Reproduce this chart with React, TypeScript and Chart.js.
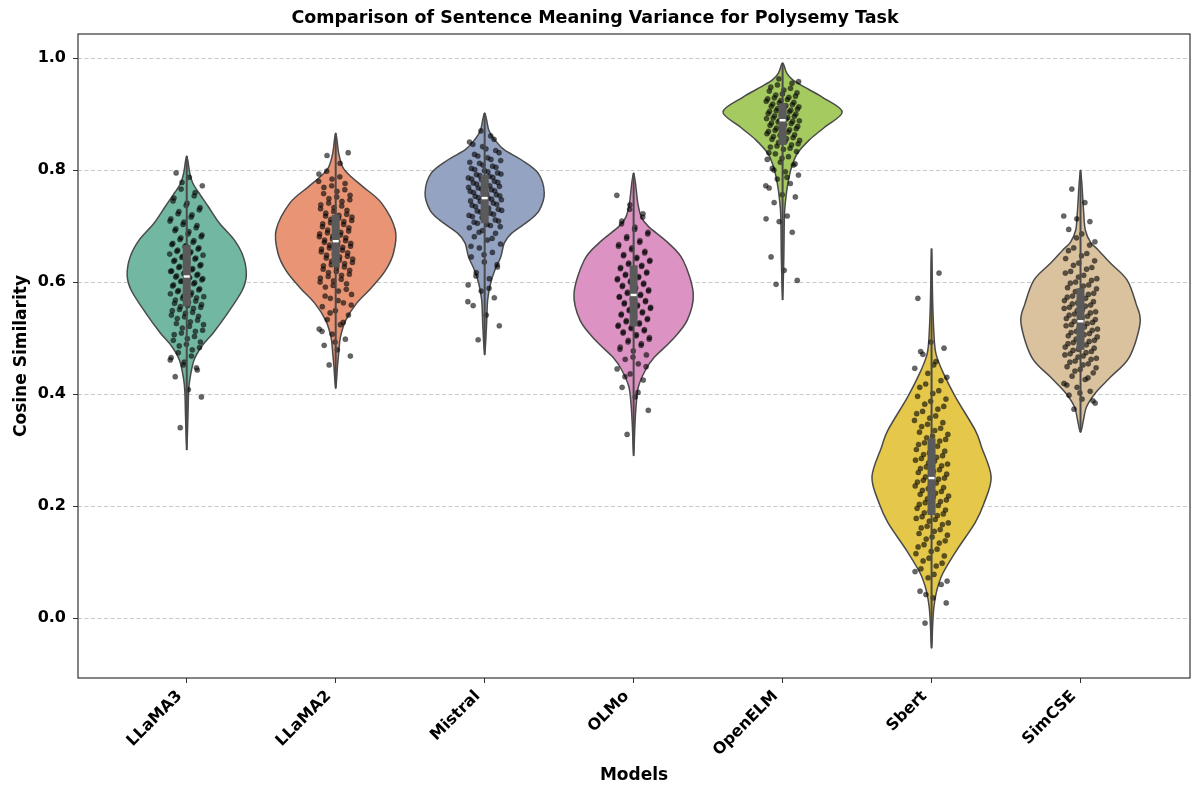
import React, { useEffect, useRef } from "react";
import { Chart, registerables } from "chart.js";

Chart.register(...registerables);

// ---------- data ----------
const models = ["LLaMA3", "LLaMA2", "Mistral", "OLMo", "OpenELM", "Sbert", "SimCSE"];
const yTickValues = [0, 0.2, 0.4, 0.6, 0.8, 1.0];
const fillColors = ["#71b7a1", "#e99575", "#95a3c3", "#dc92c3", "#a4ca60", "#e5c849", "#dbc29e"];

const q1 = [0.557, 0.627, 0.705, 0.521, 0.845, 0.184, 0.479];
const medians = [0.61, 0.673, 0.75, 0.577, 0.889, 0.25, 0.53];
const q3 = [0.666, 0.72, 0.791, 0.63, 0.919, 0.321, 0.589];

// violin density profiles: [value, relative width]
const llama3Profile = [[0.30, 0], [0.36, 0.02], [0.40, 0.03], [0.425, 0.05], [0.46, 0.12], [0.485, 0.25], [0.51, 0.45], [0.545, 0.69], [0.585, 0.93], [0.612, 1.0], [0.645, 0.95], [0.675, 0.8], [0.705, 0.55], [0.735, 0.36], [0.76, 0.2], [0.777, 0.1], [0.795, 0.05], [0.825, 0]];
const llama2Profile = [[0.41, 0], [0.45, 0.03], [0.473, 0.05], [0.502, 0.08], [0.532, 0.17], [0.562, 0.35], [0.59, 0.6], [0.62, 0.83], [0.652, 0.97], [0.693, 1.0], [0.741, 0.77], [0.77, 0.46], [0.788, 0.26], [0.805, 0.12], [0.83, 0.05], [0.866, 0]];
const mistralProfile = [[0.47, 0], [0.52, 0.03], [0.568, 0.05], [0.598, 0.1], [0.621, 0.17], [0.645, 0.27], [0.67, 0.33], [0.687, 0.45], [0.711, 0.76], [0.729, 0.92], [0.759, 1.0], [0.794, 0.9], [0.818, 0.62], [0.836, 0.33], [0.854, 0.17], [0.871, 0.07], [0.902, 0]];
const olmoProfile = [[0.29, 0], [0.34, 0.02], [0.377, 0.04], [0.413, 0.08], [0.443, 0.2], [0.466, 0.35], [0.496, 0.64], [0.532, 0.9], [0.58, 1.0], [0.639, 0.83], [0.67, 0.58], [0.699, 0.25], [0.716, 0.13], [0.741, 0.07], [0.795, 0]];
const openelmProfile = [[0.568, 0], [0.64, 0.02], [0.716, 0.03], [0.746, 0.05], [0.777, 0.09], [0.805, 0.15], [0.83, 0.25], [0.854, 0.45], [0.877, 0.71], [0.904, 1.0], [0.93, 0.67], [0.948, 0.37], [0.961, 0.17], [0.973, 0.07], [0.991, 0]];
const sbertProfile = [[-0.054, 0], [-0.01, 0.02], [0.02, 0.04], [0.05, 0.09], [0.08, 0.19], [0.121, 0.42], [0.17, 0.73], [0.205, 0.88], [0.252, 1.0], [0.305, 0.84], [0.336, 0.73], [0.395, 0.4], [0.437, 0.2], [0.466, 0.09], [0.49, 0.05], [0.56, 0.02], [0.66, 0]];
const simcseProfile = [[0.332, 0], [0.354, 0.05], [0.377, 0.1], [0.402, 0.25], [0.43, 0.5], [0.466, 0.82], [0.527, 1.0], [0.562, 0.93], [0.604, 0.78], [0.634, 0.5], [0.657, 0.3], [0.671, 0.17], [0.693, 0.08], [0.729, 0.05], [0.8, 0]];
const profiles = [llama3Profile, llama2Profile, mistralProfile, olmoProfile, openelmProfile, sbertProfile, simcseProfile];

// individual observations (strip points)
const llama3Points = [0.340, 0.395, 0.408, 0.431, 0.447, 0.452, 0.461, 0.468, 0.474, 0.483, 0.489, 0.496, 0.503, 0.509, 0.514, 0.521, 0.526, 0.532, 0.538, 0.541, 0.546, 0.551, 0.555, 0.558, 0.562, 0.566, 0.571, 0.574, 0.577, 0.583, 0.586, 0.589, 0.593, 0.597, 0.601, 0.604, 0.607, 0.609, 0.612, 0.615, 0.619, 0.622, 0.626, 0.629, 0.633, 0.637, 0.641, 0.644, 0.648, 0.652, 0.655, 0.659, 0.663, 0.667, 0.671, 0.676, 0.681, 0.686, 0.692, 0.697, 0.703, 0.709, 0.716, 0.722, 0.729, 0.737, 0.745, 0.754, 0.766, 0.772, 0.787, 0.795,
  0.443, 0.457, 0.465, 0.479, 0.486, 0.493, 0.499, 0.506, 0.512, 0.518, 0.524, 0.529, 0.535, 0.539, 0.544, 0.549, 0.553, 0.556, 0.56, 0.564, 0.568, 0.572, 0.575, 0.579, 0.581, 0.585, 0.588, 0.591, 0.595, 0.599, 0.602, 0.606, 0.608, 0.611, 0.614, 0.617, 0.62, 0.624, 0.628, 0.631, 0.635, 0.639, 0.643, 0.646, 0.65, 0.654, 0.657, 0.661, 0.665, 0.669, 0.674, 0.679, 0.684, 0.69, 0.695, 0.701, 0.707, 0.713, 0.72, 0.726, 0.733, 0.741, 0.75, 0.76, 0.778];
const llama2Points = [0.452, 0.468, 0.479, 0.487, 0.498, 0.507, 0.516, 0.524, 0.533, 0.541, 0.549, 0.556, 0.563, 0.571, 0.578, 0.584, 0.591, 0.597, 0.602, 0.607, 0.612, 0.617, 0.621, 0.625, 0.629, 0.633, 0.637, 0.641, 0.645, 0.648, 0.652, 0.655, 0.659, 0.662, 0.666, 0.669, 0.672, 0.675, 0.679, 0.682, 0.686, 0.689, 0.693, 0.697, 0.701, 0.704, 0.708, 0.712, 0.716, 0.719, 0.723, 0.728, 0.733, 0.738, 0.744, 0.749, 0.755, 0.762, 0.769, 0.776, 0.784, 0.793, 0.812, 0.826, 0.831,
  0.493, 0.512, 0.528, 0.545, 0.559, 0.567, 0.575, 0.587, 0.594, 0.6, 0.605, 0.61, 0.614, 0.619, 0.623, 0.627, 0.631, 0.635, 0.639, 0.643, 0.646, 0.65, 0.654, 0.657, 0.661, 0.664, 0.667, 0.671, 0.674, 0.677, 0.681, 0.684, 0.688, 0.691, 0.695, 0.699, 0.703, 0.706, 0.71, 0.714, 0.718, 0.721, 0.726, 0.731, 0.736, 0.741, 0.747, 0.752, 0.758, 0.765, 0.772, 0.78, 0.788, 0.798];
const mistralPoints = [0.497, 0.522, 0.541, 0.558, 0.572, 0.584, 0.595, 0.606, 0.617, 0.627, 0.636, 0.645, 0.653, 0.661, 0.668, 0.675, 0.681, 0.687, 0.692, 0.697, 0.701, 0.705, 0.709, 0.713, 0.717, 0.721, 0.725, 0.728, 0.732, 0.735, 0.739, 0.742, 0.745, 0.748, 0.751, 0.754, 0.757, 0.76, 0.763, 0.766, 0.769, 0.772, 0.775, 0.778, 0.781, 0.784, 0.787, 0.79, 0.793, 0.797, 0.801, 0.805, 0.809, 0.814, 0.819, 0.825, 0.831, 0.838, 0.846, 0.855, 0.87,
  0.565, 0.589, 0.611, 0.631, 0.649, 0.664, 0.678, 0.689, 0.699, 0.703, 0.707, 0.711, 0.715, 0.719, 0.723, 0.727, 0.73, 0.734, 0.737, 0.741, 0.744, 0.747, 0.75, 0.753, 0.756, 0.759, 0.762, 0.765, 0.768, 0.771, 0.774, 0.777, 0.78, 0.783, 0.786, 0.789, 0.792, 0.795, 0.799, 0.803, 0.807, 0.812, 0.817, 0.822, 0.828, 0.835, 0.842, 0.85, 0.861];
const olmoPoints = [0.328, 0.371, 0.395, 0.412, 0.425, 0.436, 0.445, 0.454, 0.462, 0.47, 0.477, 0.484, 0.49, 0.496, 0.501, 0.506, 0.511, 0.515, 0.519, 0.523, 0.527, 0.531, 0.535, 0.539, 0.543, 0.547, 0.551, 0.555, 0.559, 0.563, 0.567, 0.571, 0.574, 0.578, 0.582, 0.586, 0.59, 0.594, 0.598, 0.602, 0.606, 0.61, 0.614, 0.618, 0.622, 0.626, 0.63, 0.634, 0.639, 0.644, 0.649, 0.655, 0.661, 0.667, 0.674, 0.681, 0.689, 0.698, 0.709, 0.722, 0.738, 0.755,
  0.403, 0.431, 0.449, 0.466, 0.48, 0.487, 0.493, 0.498, 0.504, 0.509, 0.513, 0.517, 0.521, 0.525, 0.529, 0.533, 0.537, 0.541, 0.545, 0.549, 0.553, 0.557, 0.561, 0.565, 0.569, 0.573, 0.576, 0.58, 0.584, 0.588, 0.592, 0.596, 0.6, 0.604, 0.608, 0.612, 0.616, 0.62, 0.624, 0.628, 0.632, 0.637, 0.642, 0.647, 0.652, 0.658, 0.664, 0.671, 0.678, 0.686, 0.694, 0.704, 0.716, 0.73];
const openelmPoints = [0.596, 0.603, 0.621, 0.645, 0.689, 0.708, 0.713, 0.718, 0.742, 0.752, 0.756, 0.768, 0.776, 0.784, 0.791, 0.797, 0.803, 0.809, 0.814, 0.819, 0.824, 0.829, 0.833, 0.837, 0.841, 0.845, 0.849, 0.853, 0.856, 0.86, 0.863, 0.866, 0.869, 0.872, 0.875, 0.878, 0.881, 0.884, 0.887, 0.889, 0.892, 0.894, 0.897, 0.9, 0.902, 0.905, 0.907, 0.91, 0.913, 0.915, 0.918, 0.921, 0.924, 0.927, 0.93, 0.934, 0.938, 0.943, 0.948, 0.955, 0.963,
  0.772, 0.787, 0.8, 0.811, 0.821, 0.831, 0.839, 0.843, 0.847, 0.851, 0.855, 0.858, 0.862, 0.865, 0.868, 0.871, 0.874, 0.877, 0.88, 0.883, 0.886, 0.888, 0.891, 0.893, 0.896, 0.899, 0.901, 0.904, 0.906, 0.909, 0.912, 0.914, 0.917, 0.92, 0.923, 0.926, 0.929, 0.932, 0.936, 0.941, 0.946, 0.952, 0.958];
const sbertPoints = [-0.009, 0.027, 0.036, 0.048, 0.06, 0.072, 0.083, 0.093, 0.102, 0.111, 0.119, 0.127, 0.134, 0.141, 0.148, 0.155, 0.161, 0.167, 0.173, 0.178, 0.183, 0.188, 0.193, 0.198, 0.203, 0.208, 0.213, 0.218, 0.223, 0.228, 0.233, 0.238, 0.243, 0.248, 0.252, 0.257, 0.262, 0.267, 0.272, 0.277, 0.282, 0.287, 0.292, 0.298, 0.304, 0.31, 0.316, 0.322, 0.328, 0.335, 0.342, 0.349, 0.357, 0.365, 0.373, 0.382, 0.391, 0.401, 0.412, 0.424, 0.437, 0.446, 0.458, 0.471, 0.482, 0.493, 0.571, 0.616,
  0.042, 0.066, 0.078, 0.088, 0.098, 0.107, 0.115, 0.123, 0.131, 0.138, 0.145, 0.151, 0.158, 0.164, 0.17, 0.176, 0.181, 0.186, 0.191, 0.196, 0.201, 0.206, 0.211, 0.216, 0.221, 0.226, 0.231, 0.236, 0.241, 0.246, 0.25, 0.255, 0.26, 0.265, 0.27, 0.275, 0.28, 0.285, 0.29, 0.295, 0.301, 0.307, 0.313, 0.319, 0.325, 0.332, 0.339, 0.346, 0.353, 0.361, 0.369, 0.378, 0.387, 0.396, 0.406, 0.418, 0.43, 0.452, 0.476];
const simcsePoints = [0.373, 0.384, 0.391, 0.398, 0.405, 0.412, 0.419, 0.426, 0.432, 0.438, 0.444, 0.449, 0.454, 0.459, 0.464, 0.468, 0.472, 0.476, 0.48, 0.484, 0.488, 0.492, 0.496, 0.5, 0.504, 0.508, 0.512, 0.516, 0.52, 0.524, 0.528, 0.531, 0.535, 0.539, 0.543, 0.547, 0.551, 0.555, 0.559, 0.563, 0.567, 0.571, 0.575, 0.58, 0.585, 0.59, 0.595, 0.6, 0.606, 0.612, 0.619, 0.626, 0.634, 0.642, 0.651, 0.661, 0.672, 0.686, 0.694, 0.708, 0.713, 0.718, 0.742, 0.766,
  0.388, 0.402, 0.416, 0.429, 0.441, 0.447, 0.452, 0.457, 0.462, 0.466, 0.47, 0.474, 0.478, 0.482, 0.486, 0.49, 0.494, 0.498, 0.502, 0.506, 0.51, 0.514, 0.518, 0.522, 0.526, 0.53, 0.533, 0.537, 0.541, 0.545, 0.549, 0.553, 0.557, 0.561, 0.565, 0.569, 0.573, 0.578, 0.583, 0.588, 0.593, 0.598, 0.603, 0.609, 0.616, 0.623, 0.63, 0.638, 0.647, 0.656, 0.666, 0.679];
const pointSets = [llama3Points, llama2Points, mistralPoints, olmoPoints, openelmPoints, sbertPoints, simcsePoints];

// ---------- layout constants ----------
const W = 1196;
const H = 793;
const HALF_WIDTH = 0.4;
const JITTER = 0.115;
const FONT = "'DejaVu Sans', sans-serif";

function jitterOffset(j: number) {
  const f = (j * 0.6180339887 + 0.31) % 1;
  return (f - 0.5) * 2 * JITTER;
}

function smoothClosedPath(ctx: CanvasRenderingContext2D, pts: { x: number; y: number }[]) {
  const n = pts.length;
  ctx.moveTo(pts[0].x, pts[0].y);
  for (let i = 0; i < n; i++) {
    const p0 = pts[(i - 1 + n) % n];
    const p1 = pts[i];
    const p2 = pts[(i + 1) % n];
    const p3 = pts[(i + 2) % n];
    const c1x = p1.x + (p2.x - p0.x) / 6;
    const c1y = p1.y + (p2.y - p0.y) / 6;
    const c2x = p2.x - (p3.x - p1.x) / 6;
    const c2y = p2.y - (p3.y - p1.y) / 6;
    ctx.bezierCurveTo(c1x, c1y, c2x, c2y, p2.x, p2.y);
  }
  ctx.closePath();
}

const violinPlugin = {
  id: "violins",
  beforeDatasetsDraw(chart: any) {
    const { ctx, scales } = chart;
    const xs = scales.x;
    const ys = scales.y;
    ctx.save();
    profiles.forEach((prof, i) => {
      const right = prof.map(([v, w]) => ({ x: xs.getPixelForValue(i + w * HALF_WIDTH), y: ys.getPixelForValue(v) }));
      const left = prof.slice().reverse().map(([v, w]) => ({ x: xs.getPixelForValue(i - w * HALF_WIDTH), y: ys.getPixelForValue(v) }));
      const loop = right.concat(left.slice(1, -1));
      ctx.beginPath();
      smoothClosedPath(ctx, loop);
      ctx.fillStyle = fillColors[i];
      ctx.fill();
      ctx.lineWidth = 1.5;
      ctx.strokeStyle = "#4a4a4a";
      ctx.stroke();
    });
    ctx.restore();
  },
  afterDatasetsDraw(chart: any) {
    const { ctx, scales } = chart;
    const xs = scales.x;
    const ys = scales.y;
    ctx.save();
    profiles.forEach((prof, i) => {
      const cx = xs.getPixelForValue(i);
      const top = ys.getPixelForValue(prof[prof.length - 1][0]);
      const bot = ys.getPixelForValue(prof[0][0]);
      ctx.strokeStyle = "#4a4a4a";
      ctx.lineWidth = 2;
      ctx.beginPath();
      ctx.moveTo(cx, top);
      ctx.lineTo(cx, bot);
      ctx.stroke();
      const yq3 = ys.getPixelForValue(q3[i]);
      const yq1 = ys.getPixelForValue(q1[i]);
      ctx.fillStyle = "#5a5a5a";
      ctx.fillRect(cx - 4, yq3, 8, yq1 - yq3);
      const ym = ys.getPixelForValue(medians[i]);
      ctx.fillStyle = "#ffffff";
      ctx.fillRect(cx - 3, ym - 1.2, 6, 2.4);
    });
    ctx.restore();
  },
  afterDraw(chart: any) {
    const { ctx, chartArea } = chart;
    ctx.save();
    ctx.strokeStyle = "#333333";
    ctx.lineWidth = 1.2;
    ctx.strokeRect(chartArea.left, chartArea.top, chartArea.right - chartArea.left, chartArea.bottom - chartArea.top);
    ctx.restore();
  },
};

export default function App() {
  const canvasRef = useRef<HTMLCanvasElement | null>(null);

  useEffect(() => {
    if (!canvasRef.current) return;
    Chart.defaults.font.family = FONT;
    const scatterData: { x: number; y: number }[] = [];
    pointSets.forEach((vals, i) => {
      vals.forEach((v, j) => scatterData.push({ x: i + jitterOffset(j), y: v }));
    });

    const chart = new Chart(canvasRef.current, {
      type: "scatter",
      data: {
        datasets: [
          {
            data: scatterData,
            backgroundColor: "rgba(0,0,0,0.6)",
            borderColor: "rgba(30,30,30,0.45)",
            borderWidth: 0.6,
            pointRadius: 2.6,
          },
        ],
      },
      plugins: [violinPlugin],
      options: {
        responsive: false,
        animation: false,
        events: [],
        layout: { padding: { left: 0, right: 6, top: 0, bottom: 0 } },
        plugins: {
          legend: { display: false },
          tooltip: { enabled: false },
          title: {
            display: true,
            text: "Comparison of Sentence Meaning Variance for Polysemy Task",
            color: "#000",
            font: { size: 17.5, weight: "bold", family: FONT },
            padding: { top: 7.5, bottom: 5.5 },
          },
        },
        scales: {
          x: {
            type: "linear",
            min: -0.73,
            max: 6.735,
            afterBuildTicks: (scale: any) => {
              scale.ticks = models.map((_, i) => ({ value: i }));
            },
            afterFit: (scale: any) => {
              scale.height = H - 678;
            },
            ticks: {
              autoSkip: false,
              minRotation: 45,
              maxRotation: 45,
              padding: 4,
              labelOffset: -7,
              color: "#000",
              font: { size: 16, weight: "bold", family: FONT },
              callback: (v: any) => models[Math.round(Number(v))] ?? "",
            },
            grid: { display: true, drawOnChartArea: false, drawTicks: true, tickLength: 5, tickColor: "#333" },
            border: { display: false },
            title: {
              display: true,
              text: "Models",
              color: "#000",
              font: { size: 17, weight: "bold", family: FONT },
              padding: { top: 0, bottom: 7 },
            },
          },
          y: {
            type: "linear",
            min: -0.107,
            max: 1.043,
            afterBuildTicks: (scale: any) => {
              scale.ticks = yTickValues.map((v) => ({ value: v }));
            },
            afterFit: (scale: any) => {
              scale.width = 78;
            },
            ticks: {
              padding: 7,
              color: "#000",
              font: { size: 16, weight: "bold", family: FONT },
              callback: (v: any) => Number(v).toFixed(1),
            },
            grid: { color: "#c8c8c8", lineWidth: 1, drawTicks: true, tickLength: 5, tickColor: "#333", tickBorderDash: [] },
            border: { display: false, dash: [4, 2.5] },
            title: {
              display: true,
              text: "Cosine Similarity",
              color: "#000",
              font: { size: 17, weight: "bold", family: FONT },
              padding: { top: 11, bottom: 0 },
            },
          },
        },
      } as any,
    });
    return () => chart.destroy();
  }, []);

  return (
    <div style={{ position: "fixed", left: 0, top: 0, width: W, height: H, background: "#fff" }}>
      <canvas ref={canvasRef} width={W} height={H} style={{ display: "block" }} />
    </div>
  );
}
